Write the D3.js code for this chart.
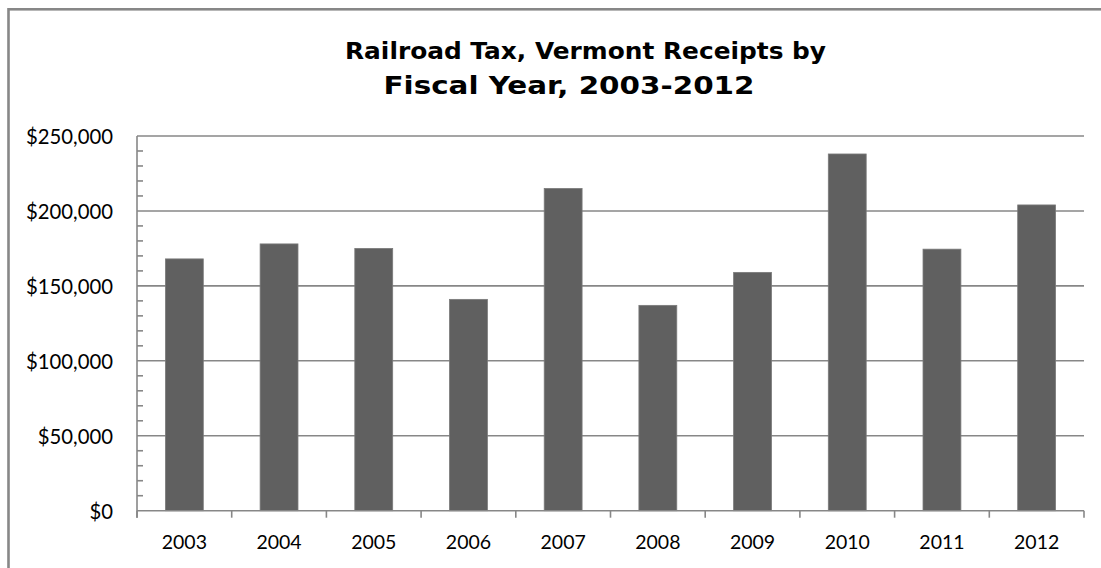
<!DOCTYPE html>
<html>
<head>
<meta charset="utf-8">
<script src="https://cdn.jsdelivr.net/npm/d3@7"></script>
<style>
  html, body { margin: 0; padding: 0; background: #fff; }
  svg { display: block; }
</style>
</head>
<body>
<svg id="chart" width="1101" height="568"></svg>
<script>
// Railroad tax receipts, Vermont, by fiscal year
const years = ["2003", "2004", "2005", "2006", "2007", "2008", "2009", "2010", "2011", "2012"];
const receipts = [168000, 178000, 175000, 141000, 215000, 137000, 159000, 238000, 174500, 204000];
const yTicks = [0, 50000, 100000, 150000, 200000, 250000];
const yMinorTicks = d3.range(0, 250001, 10000);
const titleLines = ["Railroad Tax, Vermont Receipts by", "Fiscal Year, 2003-2012"];

const svg = d3.select("#chart");
const plot = { left: 137, right: 1084, top: 136, bottom: 510.7 };
const gray = "#878787";
const labelFont = "Lato, 'Open Sans', sans-serif";

// outer frame (continues past the right and bottom edges)
svg.append("rect")
  .attr("x", 8.5).attr("y", 9.3)
  .attr("width", 1300).attr("height", 800)
  .attr("fill", "#fff")
  .attr("stroke", gray).attr("stroke-width", 2.6);

// title, two centred lines
const titleLayout = [
  { x: 585.5, y: 58.5, size: 23.5, len: 481 },
  { x: 569, y: 93.5, size: 24, len: 371 }
];
svg.append("g").selectAll("text")
  .data(titleLines)
  .join("text")
  .attr("x", (d, i) => titleLayout[i].x)
  .attr("y", (d, i) => titleLayout[i].y)
  .attr("text-anchor", "middle")
  .attr("font-family", "'DejaVu Sans', sans-serif")
  .attr("font-weight", "bold")
  .attr("font-size", (d, i) => titleLayout[i].size)
  .attr("textLength", (d, i) => titleLayout[i].len)
  .attr("lengthAdjust", "spacingAndGlyphs")
  .attr("fill", "#000")
  .text(d => d);

const x = d3.scaleBand()
  .domain(years)
  .range([plot.left, plot.right])
  .paddingInner(0.6)
  .paddingOuter(0.3);

const y = d3.scaleLinear()
  .domain([0, 250000])
  .range([plot.bottom, plot.top]);

// horizontal gridlines
svg.append("g").selectAll("line")
  .data(yTicks.filter(d => d > 0))
  .join("line")
  .attr("x1", plot.left).attr("x2", plot.right)
  .attr("y1", d => y(d)).attr("y2", d => y(d))
  .attr("stroke", gray).attr("stroke-width", 1.6);

// bars
svg.append("g").selectAll("rect")
  .data(years.map((yr, i) => ({ yr, v: receipts[i] })))
  .join("rect")
  .attr("x", d => x(d.yr))
  .attr("y", d => y(d.v))
  .attr("width", x.bandwidth())
  .attr("height", d => y(0) - y(d.v))
  .attr("fill", "#606060")
  .attr("stroke", "#7a7a7a")
  .attr("stroke-width", 0.8);

// y axis: labels plus inner minor ticks
const yAxis = d3.axisLeft(y)
  .tickValues(yTicks)
  .tickFormat(d => "$" + d3.format(",")(d))
  .tickSize(0)
  .tickPadding(24);
const yg = svg.append("g")
  .attr("transform", `translate(${plot.left},0)`)
  .call(yAxis);
yg.select(".domain").remove();
yg.selectAll("text")
  .attr("font-family", labelFont)
  .attr("font-size", 20.3)
  .attr("fill", "#000")
  .attr("dy", "0.36em");

svg.append("g").selectAll("line")
  .data(yMinorTicks.filter(d => d % 50000 !== 0))
  .join("line")
  .attr("x1", plot.left).attr("x2", plot.left + 6)
  .attr("y1", d => y(d)).attr("y2", d => y(d))
  .attr("stroke", gray).attr("stroke-width", 1.6);

svg.append("line")
  .attr("x1", plot.left).attr("x2", plot.left)
  .attr("y1", plot.top).attr("y2", plot.bottom + 7)
  .attr("stroke", gray).attr("stroke-width", 1.6);

// x axis with boundary ticks between categories
const step = x.step();
const boundaries = d3.range(years.length + 1).map(i => plot.left + i * step);
svg.append("line")
  .attr("x1", plot.left).attr("x2", plot.right)
  .attr("y1", plot.bottom).attr("y2", plot.bottom)
  .attr("stroke", gray).attr("stroke-width", 1.6);
svg.append("g").selectAll("line")
  .data(boundaries)
  .join("line")
  .attr("x1", d => d).attr("x2", d => d)
  .attr("y1", plot.bottom).attr("y2", plot.bottom + 7)
  .attr("stroke", gray).attr("stroke-width", 1.6);

const xAxis = d3.axisBottom(x).tickSize(0).tickPadding(0);
const xg = svg.append("g")
  .attr("transform", `translate(0,${plot.bottom})`)
  .call(xAxis);
xg.select(".domain").remove();
xg.selectAll("text")
  .attr("font-family", labelFont)
  .attr("font-size", 19.5)
  .attr("fill", "#000")
  .attr("y", 38.5)
  .attr("dy", 0);
</script>
</body>
</html>
